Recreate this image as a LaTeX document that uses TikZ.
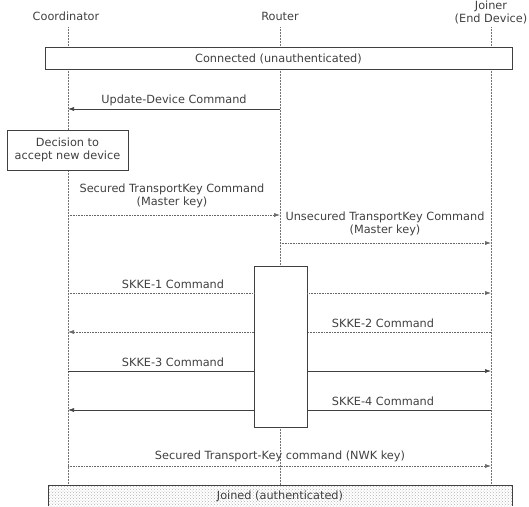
\documentclass[tikz,border=0pt]{standalone}
\usepackage{fontspec}
\setmainfont{DejaVu Sans}
\usetikzlibrary{arrows.meta,patterns}
\definecolor{ink}{gray}{0.25}
\definecolor{life}{gray}{0.45}
\tikzset{
  lbl/.style={font=\fontsize{11.3}{13.5}\selectfont, text=ink, inner sep=1pt, align=center},
  lifeline/.style={draw=life, densely dotted, line width=0.5pt},
  msg/.style={draw=ink, line width=0.6pt, -{Latex[length=6pt,width=4pt]}},
  msgl/.style={draw=ink!80, line width=0.6pt, densely dotted, -{Latex[length=6pt,width=4pt]}},
  seg/.style={draw=ink, line width=0.6pt},
  segl/.style={draw=ink!80, line width=0.6pt, densely dotted},
  statebox/.style={draw=ink, line width=0.6pt, fill=white},
}
\begin{document}
\begin{tikzpicture}[x=1pt,y=-1pt]
\useasboundingbox (0,0) rectangle (529,506);
% heads
\node[lbl] (hc) at (66,16) {Coordinator};
\node[lbl] (hr) at (280,16) {Router};
\node[lbl] (hj) at (491,12.5) {Joiner\\(End Device)};
% lifeline coordinates
\coordinate (c0) at (68,27);
\coordinate (c1) at (68,485);
\coordinate (r0) at (280,27);
\coordinate (r1) at (280,266);
\coordinate (r2) at (280,427);
\coordinate (r3) at (280,485);
\coordinate (j0) at (491,27);
\coordinate (j1) at (491,485);
\draw[lifeline] (c0) -- (c1);
\draw[lifeline] (r0) -- (r1);
\draw[lifeline] (r2) -- (r3);
\draw[lifeline] (j0) -- (j1);
% connected box
\node[statebox, minimum width=467pt, minimum height=22pt, inner sep=0pt, lbl] (conn) at (278.5,58.5) {Connected (unauthenticated)};
% update-device
\coordinate (ua) at (280,109);
\coordinate (ub) at (68,109);
\draw[msg] (ua) -- (ub);
\node[lbl] (ul) at (174,100) {Update-Device Command};
% decision
\node[statebox, minimum width=121pt, minimum height=40pt, inner sep=0pt, lbl] (dec) at (67.5,150) {Decision to\\accept new device};
% secured transportkey
\coordinate (sa) at (68,215);
\coordinate (sb) at (280,215);
\draw[msgl] (sa) -- (sb);
\node[lbl] (sl) at (172,196) {Secured TransportKey Command\\(Master key)};
% unsecured
\coordinate (na) at (280,243);
\coordinate (nb) at (491,243);
\draw[msgl] (na) -- (nb);
\node[lbl] (nl) at (385,224) {Unsecured TransportKey Command\\(Master key)};
% activation box
\node[statebox, minimum width=53pt, minimum height=161pt, inner sep=0pt] (act) at (280.5,346.5) {};
% SKKE-1
\coordinate (k1a) at (68,293);
\coordinate (k1b) at (491,293);
\draw[segl] (k1a) -- (act.west |- k1a);
\draw[msgl] (act.east |- k1a) -- (k1b);
\node[lbl] (k1l) at (173,284) {SKKE-1 Command};
% SKKE-2
\coordinate (k2a) at (491,332);
\coordinate (k2b) at (68,332);
\draw[segl] (k2a) -- (act.east |- k2a);
\draw[msgl] (act.west |- k2a) -- (k2b);
\node[lbl] (k2l) at (383,323) {SKKE-2 Command};
% SKKE-3
\coordinate (k3a) at (68,371);
\coordinate (k3b) at (491,371);
\draw[seg] (k3a) -- (act.west |- k3a);
\draw[msg] (act.east |- k3a) -- (k3b);
\node[lbl] (k3l) at (173,362) {SKKE-3 Command};
% SKKE-4
\coordinate (k4a) at (491,410);
\coordinate (k4b) at (68,410);
\draw[seg] (k4a) -- (act.east |- k4a);
\draw[msg] (act.west |- k4a) -- (k4b);
\node[lbl] (k4l) at (383,401) {SKKE-4 Command};
% NWK key
\coordinate (wa) at (68,466);
\coordinate (wb) at (491,466);
\draw[msgl] (wa) -- (wb);
\node[lbl] (wl) at (280,456) {Secured Transport-Key command (NWK key)};
% joined box
\path[pattern=crosshatch dots, pattern color=gray!60] (48,485) rectangle (512,506);
\draw[ink, line width=0.6pt] (48,506) -- (48,485) -- (512,485) -- (512,506);
\node[lbl] (jl) at (280,496) {Joined (authenticated)};
\end{tikzpicture}
\end{document}
